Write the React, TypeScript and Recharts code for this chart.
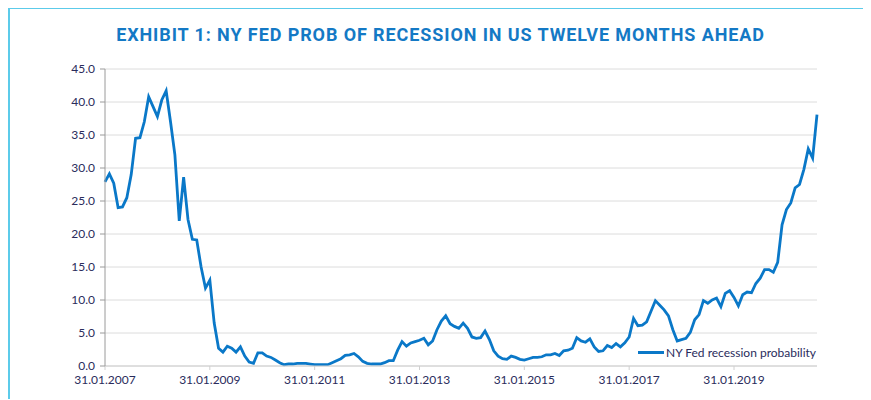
import React from 'react';
import { LineChart, Line, XAxis, YAxis, CartesianGrid } from 'recharts';

// month-end dates, Jan 2007 .. Aug 2020
const startYear = 2007;
const monthCount = 164;
const monthEnds = [31, 28, 31, 30, 31, 30, 31, 31, 30, 31, 30, 31];

const dates: string[] = [];
for (let i = 0; i < monthCount; i++) {
  const y = startYear + Math.floor(i / 12);
  const m = i % 12;
  const leap = y % 4 === 0 && m === 1;
  const d = leap ? 29 : monthEnds[m];
  dates.push(`${d}.${String(m + 1).padStart(2, '0')}.${y}`);
}

const recessionProb = [
  27.9, 29.1, 27.7, 24.0, 24.1, 25.5, 29.0, 34.5, 34.6, 37.0, 40.8, 39.3,
  37.8, 40.3, 41.7, 37.0, 32.0, 22.0, 28.6, 22.2, 19.2, 19.1, 15.0, 11.8,
  13.0, 6.5, 2.7, 2.1, 3.0, 2.7, 2.1, 2.9, 1.5, 0.6, 0.4, 2.0,
  2.0, 1.5, 1.3, 0.9, 0.5, 0.2, 0.3, 0.3, 0.4, 0.4, 0.4, 0.3,
  0.2, 0.2, 0.2, 0.2, 0.5, 0.8, 1.1, 1.6, 1.7, 1.9, 1.4, 0.7,
  0.4, 0.3, 0.3, 0.3, 0.5, 0.8, 0.8, 2.4, 3.7, 3.0, 3.5, 3.7,
  3.9, 4.2, 3.2, 3.8, 5.5, 6.8, 7.6, 6.4, 6.0, 5.7, 6.5, 5.7,
  4.4, 4.2, 4.3, 5.3, 4.0, 2.3, 1.5, 1.1, 1.0, 1.5, 1.3, 1.0,
  0.9, 1.1, 1.3, 1.3, 1.4, 1.7, 1.7, 1.9, 1.6, 2.3, 2.4, 2.7,
  4.3, 3.8, 3.6, 4.1, 2.9, 2.2, 2.3, 3.1, 2.8, 3.4, 2.9, 3.5,
  4.4, 7.2, 6.1, 6.2, 6.7, 8.3, 9.9, 9.2, 8.5, 7.6, 5.5, 3.8,
  4.0, 4.2, 5.1, 7.0, 7.8, 9.9, 9.5, 10.0, 10.3, 9.0, 11.0, 11.4,
  10.4, 9.1, 10.8, 11.2, 11.1, 12.5, 13.3, 14.6, 14.6, 14.2, 15.7, 21.4,
  23.7, 24.7, 27.0, 27.5, 29.8, 32.9, 31.5, 38.1,
];

const yTicks = [0, 5, 10, 15, 20, 25, 30, 35, 40, 45];

const data = dates.map((date, i) => ({ date, prob: recessionProb[i] }));

const BLUE = '#0a78c8';
const NAVY = '#2a2c5c';
const FONT = 'Lato, "Open Sans", sans-serif';

export default function App() {
  return (
    <div style={{ position: 'relative', width: 863, height: 392, borderTop: '2px solid #5ccbea', borderLeft: '2px solid #5ccbea', marginTop: -1, boxSizing: 'border-box' }}>
      <div
        style={{
          position: 'absolute',
          top: 15,
          left: 0,
          width: '100%',
          textAlign: 'center',
          fontFamily: 'Roboto, sans-serif',
          fontWeight: 700,
          fontSize: 18,
          letterSpacing: 0.9,
          color: '#1479c5',
        }}
      >
        EXHIBIT 1: NY FED PROB OF RECESSION IN US TWELVE MONTHS AHEAD
      </div>
      <div style={{ position: 'absolute', top: -1, left: -2 }}>
        <LineChart width={863} height={392} data={data} margin={{ top: 61, right: 54, bottom: 0, left: 0 }}>
          <CartesianGrid vertical={false} stroke="#dcdcdc" />
          <XAxis
            dataKey="date"
            interval={23}
            height={34}
            stroke="#d0d0d0"
            tickSize={4}
            tickMargin={5}
            tick={{ fill: NAVY, fontSize: 12, fontFamily: FONT }}
          />
          <YAxis
            width={97}
            domain={[0, 45]}
            ticks={yTicks}
            tickFormatter={(v: number) => v.toFixed(1)}
            stroke="#9a9a9a"
            tickSize={5}
            tickMargin={5}
            tick={{ fill: NAVY, fontSize: 12, fontFamily: FONT }}
          />
          <Line
            type="linear"
            dataKey="prob"
            name="NY Fed recession probability"
            stroke={BLUE}
            strokeWidth={2.8}
            dot={false}
            isAnimationActive={false}
          />
        </LineChart>
      </div>
      <div
        style={{
          position: 'absolute',
          left: 628,
          top: 336,
          display: 'flex',
          alignItems: 'center',
          fontFamily: FONT,
          fontSize: 12,
          color: NAVY,
          whiteSpace: 'nowrap',
        }}
      >
        <span style={{ display: 'inline-block', width: 26, height: 3, background: BLUE, marginRight: 2 }} />
        <span>NY Fed recession probability</span>
      </div>
    </div>
  );
}
